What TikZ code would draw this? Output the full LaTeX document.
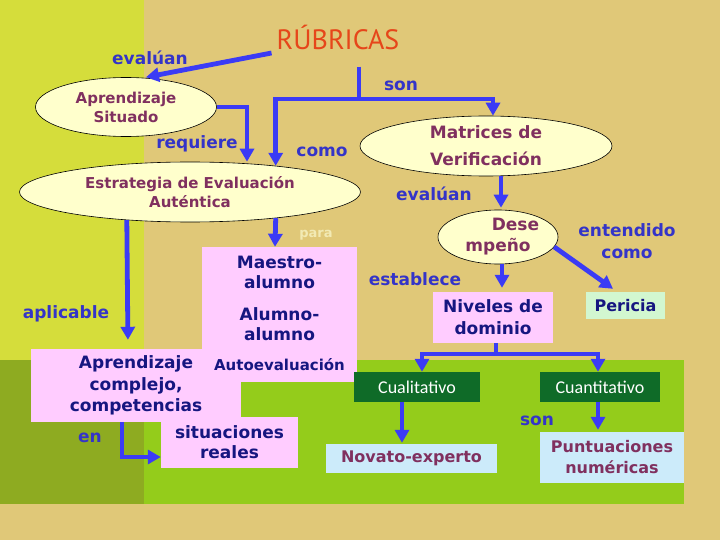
\documentclass[tikz,border=0pt]{standalone}
\usepackage{fontspec}
\setmainfont{DejaVu Sans}
\newfontfamily\titlefont{PT Sans}
\newfontfamily\tagfont{Carlito}
\usetikzlibrary{arrows.meta,shapes.geometric}
\definecolor{bgTan}{HTML}{E0C878}
\definecolor{bgYellow}{HTML}{D5DD3B}
\definecolor{bgOlive}{HTML}{8EAB21}
\definecolor{bgGreen}{HTML}{94CC1B}
\definecolor{ovalFill}{HTML}{FFFFCC}
\definecolor{ovalText}{HTML}{80305F}
\definecolor{pinkFill}{HTML}{FFCCFF}
\definecolor{navyText}{HTML}{161680}
\definecolor{darkGreen}{HTML}{0F6B28}
\definecolor{paleBlue}{HTML}{CCEBFA}
\definecolor{paleGreen}{HTML}{D2F7D0}
\definecolor{arrowBlue}{HTML}{3B3BF5}
\definecolor{labelBlue}{HTML}{3434C8}
\definecolor{titleOrange}{HTML}{E6461A}
\definecolor{paraText}{HTML}{F2EAB4}
\begin{document}
\begin{tikzpicture}[x=1pt,y=-1pt,
oval/.style={ellipse,draw=black,line width=0.6pt,fill=ovalFill,inner xsep=0pt,inner ysep=-6pt,text=ovalText,align=center,font=\bfseries\fontsize{15}{19}\selectfont},
pinkbox/.style={fill=pinkFill,inner sep=0pt,text=navyText,align=center,font=\bfseries\fontsize{17}{20}\selectfont},
tagbox/.style={fill=darkGreen,inner sep=0pt,text=white,font=\tagfont\fontsize{18}{20}\selectfont},
scorebox/.style={fill=paleBlue,inner sep=0pt,text=ovalText,align=center,font=\bfseries\fontsize{16}{21}\selectfont},
link label/.style={text=labelBlue,inner sep=0pt,align=center,font=\bfseries\fontsize{17}{22}\selectfont},
flow/.style={draw=arrowBlue,line width=4.8pt,-{Triangle[width=14pt,length=13pt]}},
plainlink/.style={draw=arrowBlue,line width=4.8pt}]
\useasboundingbox (0,0) rectangle (720,540);
\fill[bgTan] (0,0) rectangle (720,540);
\fill[bgYellow] (0,0) rectangle (144,360);
\fill[bgOlive] (0,360) rectangle (144,504);
\fill[bgGreen] (144,360) rectangle (684,504);

\node[inner sep=0pt,text=titleOrange,font=\titlefont\fontsize{28}{30}\selectfont] (rub) at (338,37) {RÚBRICAS};
\node[oval,minimum width=181pt,minimum height=59pt] (sit) at (126,107) {Aprendizaje\\Situado};
\node[oval,minimum width=341pt,minimum height=60pt] (estr) at (190,192) {Estrategia de Evaluación\\Auténtica};
\node[oval,minimum width=252pt,minimum height=60pt,inner ysep=-10pt,font=\bfseries\fontsize{17}{27}\selectfont] (mat) at (486,146) {Matrices de\\Verificación};
\node[oval,minimum width=120pt,minimum height=54pt,font=\bfseries\fontsize{17}{21}\selectfont] (des) at (498,237) {\hspace*{35pt}Dese\\mpeño};
\node[pinkbox,minimum width=210pt,minimum height=73pt,font=\bfseries\fontsize{17}{21.5}\selectfont] (apc) at (136,385.5) {Aprendizaje\\complejo,\\competencias};
\node[pinkbox,minimum width=137pt,minimum height=51pt] (sr) at (229.5,442.5) {situaciones\\reales};
\node[pinkbox,minimum width=155pt,minimum height=51pt] (maes) at (279.5,272.5) {Maestro-\\alumno};
\node[pinkbox,minimum width=155pt,minimum height=52pt] (alal) at (279.5,324) {Alumno-\\alumno};
\node[pinkbox,minimum width=155pt,minimum height=34pt,font=\bfseries\fontsize{15}{18}\selectfont] (auto) at (279.5,365) {Autoevaluación};
\node[pinkbox,minimum width=120pt,minimum height=51pt,font=\bfseries\fontsize{17}{22}\selectfont] (niv) at (493,317.5) {Niveles de\\dominio};
\node[pinkbox,fill=paleGreen,minimum width=79pt,minimum height=27pt,font=\bfseries\fontsize{16}{20}\selectfont] (per) at (625.5,305.5) {Pericia};
\node[tagbox,minimum width=126pt,minimum height=30pt] (cual) at (417,387) {Cualitativo};
\node[tagbox,minimum width=120pt,minimum height=30pt] (cuan) at (600,387) {Cuantitativo};
\node[scorebox,minimum width=171pt,minimum height=29pt] (nov) at (411.5,458.5) {Novato-experto};
\node[scorebox,minimum width=144pt,minimum height=51pt] (pun) at (612,457.5) {Puntuaciones\\numéricas};

\node[link label] (lbEvalA) at (150,58) {evalúan};
\node[link label] (lbReq) at (197,144) {requiere};
\node[link label] (lbSonA) at (401,86) {son};
\node[link label] (lbComo) at (322,152) {como};
\node[link label] (lbEvalB) at (434,194) {evalúan};
\node[link label] (lbEnt) at (627,241) {entendido\\como};
\node[link label] (lbEst) at (415,279) {establece};
\node[link label] (lbSonB) at (537,421) {son};
\node[link label] (lbApl) at (66,314) {aplicable};
\node[link label] (lbEn) at (90,438) {en};
\node[link label,text=paraText,font=\bfseries\fontsize{13}{15}\selectfont] (lbPara) at (316,235) {para};

\coordinate (jSon) at (359,99);
\coordinate (jNiv) at (496,354);
\draw[flow] ([shift={(-5,16)}]rub.west) -- ([xshift=20pt]sit.north);
\draw[plainlink] ([yshift=-17pt]jSon |- rub.south) -- (jSon);
\draw[flow] (jSon) -| (estr.17);
\draw[flow] (jSon) -| ([xshift=7pt]mat.north);
\draw[flow] (sit.east) -| ([xshift=57pt]estr.north);
\draw[flow,shorten >=2pt] ([xshift=15pt]mat.south) -- ([xshift=3pt]des.north);
\draw[flow,shorten >=4pt] ([xshift=4pt]des.south) -- ([xshift=9pt]niv.north);
\draw[flow] (des.-10) -- ([shift={(-12.5,-3)}]per.north);
\draw[plainlink] (niv.south -| jNiv) -- (jNiv);
\draw[flow] (jNiv) -| ([xshift=5pt]cual.north);
\draw[flow] (jNiv) -| ([xshift=-2pt]cuan.north);
\draw[flow,shorten >=1pt] ([xshift=-15pt]cual.south) -- ([xshift=-9.5pt]nov.north);
\draw[flow,shorten >=2pt] ([xshift=-2pt]cuan.south) -- ([xshift=-14pt]pun.north);
\draw[flow] (estr.-17) -- ([xshift=-4.5pt]maes.north);
\draw[flow,shorten >=9pt] (estr.204.2) -- ([xshift=-8pt]apc.north);
\draw[flow] ([xshift=-14pt]apc.south) |- ([yshift=-14.5pt]sr.west);
\end{tikzpicture}
\end{document}
